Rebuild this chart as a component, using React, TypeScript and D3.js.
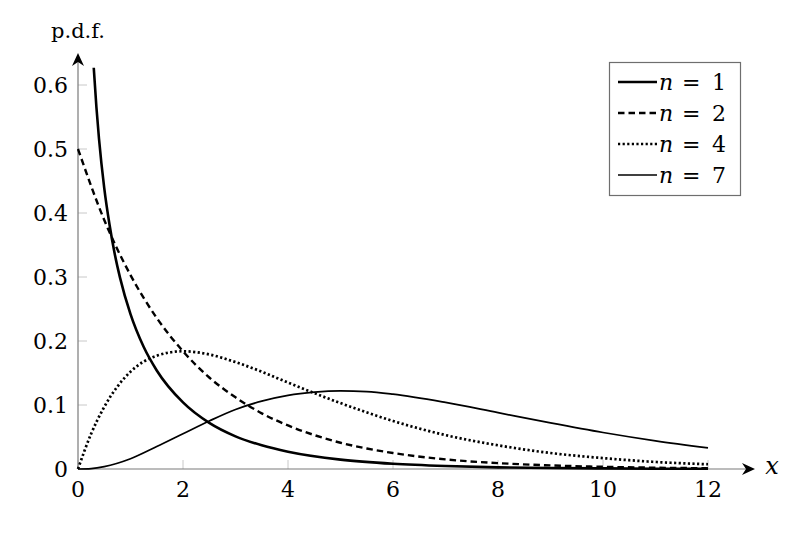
import React from "react";
import * as d3 from "d3";

// values (chi-square densities)
const xN1 = [0.3, 0.35, 0.4, 0.5, 0.6, 0.7, 0.8, 1, 1.25, 1.5, 2, 2.5, 3, 3.5, 4, 5, 6, 7, 8, 9, 10, 11, 12];
const yN1 = [0.627, 0.566, 0.516, 0.439, 0.382, 0.336, 0.299, 0.242, 0.191, 0.154, 0.104, 0.072, 0.051, 0.037, 0.027, 0.0146, 0.0081, 0.0046, 0.0026, 0.0015, 0.0009, 0.0005, 0.0003];

const xN2 = [0, 0.5, 1, 1.5, 2, 2.5, 3, 3.5, 4, 4.5, 5, 5.5, 6, 7, 8, 9, 10, 11, 12];
const yN2 = [0.5, 0.389, 0.303, 0.236, 0.184, 0.143, 0.112, 0.087, 0.068, 0.053, 0.041, 0.032, 0.025, 0.015, 0.0092, 0.0056, 0.0034, 0.002, 0.0012];

const xN4 = [0, 0.25, 0.5, 1, 1.5, 2, 2.5, 3, 3.5, 4, 5, 6, 7, 8, 9, 10, 11, 12];
const yN4 = [0, 0.055, 0.097, 0.152, 0.177, 0.184, 0.179, 0.167, 0.152, 0.135, 0.103, 0.075, 0.053, 0.037, 0.025, 0.017, 0.011, 0.0074];

const xN7 = [0, 0.25, 0.5, 1, 1.5, 2, 2.5, 3, 3.5, 4, 4.5, 5, 5.5, 6, 7, 8, 9, 10, 11, 12];
const yN7 = [0, 0.0007, 0.0037, 0.016, 0.035, 0.055, 0.075, 0.093, 0.106, 0.115, 0.12, 0.122, 0.121, 0.117, 0.104, 0.088, 0.072, 0.057, 0.044, 0.033];

const xTicks = [0, 2, 4, 6, 8, 10, 12];
const yTicks = [0, 0.1, 0.2, 0.3, 0.4, 0.5, 0.6];
const legendLabels = ["1", "2", "4", "7"];

const width = 800;
const height = 533;
const font = "DejaVu Serif, Liberation Serif, serif";

const series = [
  { xs: xN1, ys: yN1, width: 2.6, dash: "none" },
  { xs: xN2, ys: yN2, width: 2.4, dash: "6.5,4" },
  { xs: xN4, ys: yN4, width: 2.7, dash: "2.2,2.4" },
  { xs: xN7, ys: yN7, width: 1.7, dash: "none" },
];

const txt = (size: number, italic = false): React.CSSProperties => ({
  fontFamily: font,
  fontSize: size,
  fontStyle: italic ? "italic" : "normal",
});

const App: React.FC = () => {
  const x = d3.scaleLinear().domain([0, 12]).range([78, 708]);
  const y = d3.scaleLinear().domain([0, 0.6]).range([469, 85]);

  const line = d3
    .line<[number, number]>()
    .x((d) => x(d[0]))
    .y((d) => y(d[1]))
    .curve(d3.curveMonotoneX);

  const xEnd = 746;
  const yTop = 62;

  return (
    <div style={{ position: "absolute", left: 0, top: 0 }}>
      <svg width={width} height={height} style={{ display: "block", background: "#fff" }}>
        {/* ticks inside */}
        {xTicks.map((t) => (
          <line key={"xt" + t} x1={x(t)} x2={x(t)} y1={y(0)} y2={y(0) - 9} stroke="#c8c8c8" strokeWidth={1} />
        ))}
        {yTicks.map((t) => (
          <line key={"yt" + t} x1={x(0)} x2={x(0) + 9} y1={y(t)} y2={y(t)} stroke="#c8c8c8" strokeWidth={1} />
        ))}

        {/* axes */}
        <line x1={x(0)} x2={xEnd} y1={y(0)} y2={y(0)} stroke="#7a7a7a" strokeWidth={1.2} />
        <line x1={x(0)} x2={x(0)} y1={y(0)} y2={yTop} stroke="#7a7a7a" strokeWidth={1.2} />
        <path
          d={`M${xEnd + 9},${y(0)} L${xEnd - 4},${y(0) - 6} L${xEnd},${y(0)} L${xEnd - 4},${y(0) + 6} Z`}
          fill="#000"
        />
        <path
          d={`M${x(0)},${yTop - 9} L${x(0) - 6},${yTop + 4} L${x(0)},${yTop} L${x(0) + 6},${yTop + 4} Z`}
          fill="#000"
        />

        {/* curves */}
        {series.map((s, i) => (
          <path
            key={"s" + i}
            d={line(s.xs.map((v, j) => [v, s.ys[j]] as [number, number])) || ""}
            fill="none"
            stroke="#000"
            strokeWidth={s.width}
            strokeDasharray={s.dash}
          />
        ))}

        {/* tick labels */}
        {xTicks.map((t) => (
          <text key={"xl" + t} x={x(t)} y={497} textAnchor="middle" style={txt(22)}>
            {t}
          </text>
        ))}
        {yTicks.map((t) => (
          <text key={"yl" + t} x={68} y={y(t) + 8} textAnchor="end" style={txt(22)}>
            {t === 0 ? "0" : t.toFixed(1)}
          </text>
        ))}

        {/* axis labels */}
        <text x={x(0)} y={38} textAnchor="middle" style={txt(21)}>
          p.d.f.
        </text>
        <text x={772} y={y(0) + 5} textAnchor="middle" style={txt(24, true)}>
          x
        </text>

        {/* legend */}
        <rect x={609.5} y={62.5} width={131} height={133} fill="#fff" stroke="#6e6e6e" strokeWidth={1.2} />
        {series.map((s, i) => {
          const cy = 82 + i * 31;
          return (
            <g key={"lg" + i}>
              <line x1={618} x2={657} y1={cy} y2={cy} stroke="#000" strokeWidth={s.width} strokeDasharray={s.dash} />
              <text y={cy + 8} style={txt(22)}>
                <tspan x={659} style={{ fontStyle: "italic" }}>n</tspan>
                <tspan x={682}>=</tspan>
                <tspan x={712}>{legendLabels[i]}</tspan>
              </text>
            </g>
          );
        })}
      </svg>
    </div>
  );
};

export default App;
